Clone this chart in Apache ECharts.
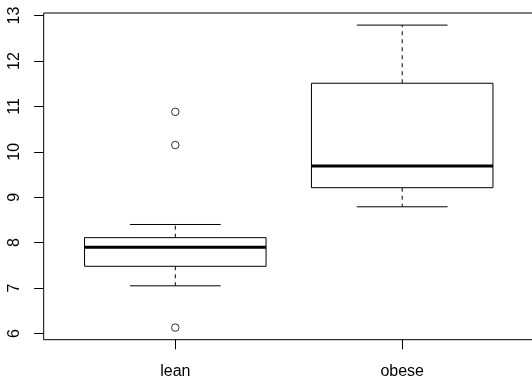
<!DOCTYPE html>
<html><head><meta charset="utf-8">
<script src="https://cdn.jsdelivr.net/npm/echarts@6/dist/echarts.min.js"></script>
<style>html,body{margin:0;padding:0;background:#fff}#c{width:532px;height:379px}</style>
</head><body><div id="c"></div>
<script>
// ---- data (energy expenditure, lean vs obese) ----
const categories = ['lean', 'obese'];
const lowWhisker = [7.05, 8.79];
const q1 = [7.48, 9.21];
const median = [7.90, 9.69];
const q3 = [8.11, 11.51];
const highWhisker = [8.40, 12.79];
const outlierGroup = [1, 1, 1];
const outlierValues = [6.13, 10.15, 10.88];
const xTicks = [1, 2];
const yTicks = [6, 7, 8, 9, 10, 11, 12, 13];

const boxData = categories.map((c, i) => [i + 1, lowWhisker[i], q1[i], median[i], q3[i], highWhisker[i]]);
const outlierData = outlierValues.map((v, i) => [outlierGroup[i], v]);

const chart = echarts.init(document.getElementById('c'), null, {renderer: 'canvas'});

function renderItem(params, api) {
  const x = api.value(0);
  const pLow = api.coord([x, api.value(1)]);
  const pQ1 = api.coord([x, api.value(2)]);
  const pMed = api.coord([x, api.value(3)]);
  const pQ3 = api.coord([x, api.value(4)]);
  const pHigh = api.coord([x, api.value(5)]);
  const half = api.size([0.4, 0])[0];
  const capHalf = api.size([0.2, 0])[0];
  const cx = pMed[0];
  const dashed = {stroke: '#000', lineWidth: 1, lineDash: [4, 4]};
  const solid = {stroke: '#000', lineWidth: 1};
  return {
    type: 'group',
    children: [
      {type: 'line', shape: {x1: cx, y1: pQ3[1], x2: cx, y2: pHigh[1]}, style: dashed},
      {type: 'line', shape: {x1: cx, y1: pQ1[1], x2: cx, y2: pLow[1]}, style: dashed},
      {type: 'line', shape: {x1: cx - capHalf, y1: pHigh[1], x2: cx + capHalf, y2: pHigh[1]}, style: solid},
      {type: 'line', shape: {x1: cx - capHalf, y1: pLow[1], x2: cx + capHalf, y2: pLow[1]}, style: solid},
      {type: 'rect', shape: {x: cx - half, y: pQ3[1], width: 2 * half, height: pQ1[1] - pQ3[1]},
        style: {fill: '#fff', stroke: '#000', lineWidth: 1}},
      {type: 'line', shape: {x1: cx - half, y1: pMed[1], x2: cx + half, y2: pMed[1]},
        style: {stroke: '#000', lineWidth: 3}}
    ]
  };
}

const font = 'Liberation Sans';
chart.setOption({
  animation: false,
  backgroundColor: '#fff',
  grid: {
    left: 43.7, top: 13, width: 494, height: 326.7,
    show: true, borderColor: '#000', borderWidth: 1,
    containLabel: false, outerBoundsMode: 'none'
  },
  xAxis: {
    type: 'value', min: 0.42, max: 0.42 + 494 / 226.9,
    splitLine: {show: false},
    axisLine: {show: false},
    axisTick: {show: true, customValues: xTicks, length: 9.6, lineStyle: {color: '#000', width: 1}},
    axisLabel: {
      customValues: xTicks,
      formatter: v => categories[Math.round(v) - 1],
      margin: 24, fontSize: 16, color: '#000', fontFamily: font
    }
  },
  yAxis: {
    type: 'value', min: 5.8636, max: 13.0564,
    splitLine: {show: false},
    axisLine: {show: false},
    axisTick: {show: true, customValues: yTicks, length: 9.6, lineStyle: {color: '#000', width: 1}},
    axisLabel: {
      customValues: yTicks, rotate: 90,
      margin: 21, fontSize: 16, color: '#000', fontFamily: font
    }
  },
  series: [
    {type: 'custom', renderItem: renderItem, data: boxData, encode: {x: 0, y: [1, 2, 3, 4, 5]}, clip: false},
    {type: 'scatter', data: outlierData, symbol: 'circle', symbolSize: 7.5,
      itemStyle: {color: 'rgba(255,255,255,0)', borderColor: '#000', borderWidth: 1}}
  ]
});
</script>
</body></html>
